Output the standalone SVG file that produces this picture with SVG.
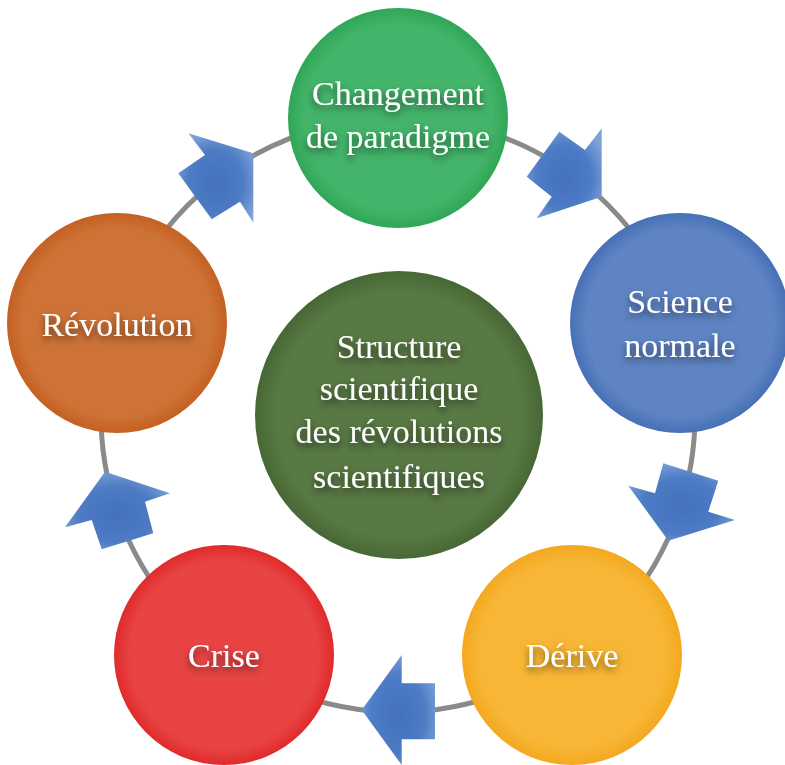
<svg xmlns="http://www.w3.org/2000/svg" width="785" height="765" viewBox="0 0 785 765">
<defs>
<style>
.lbl{font-family:"Liberation Serif","Times New Roman",serif;font-size:34px;fill:#ffffff;text-anchor:middle;filter:url(#ts)}
.ring{fill:none;stroke:#8a8a8a;stroke-width:5}
.arr{fill:url(#gArr)}
</style>
<filter id="ts" x="-20%" y="-40%" width="140%" height="200%">
<feGaussianBlur in="SourceAlpha" stdDeviation="3.5"/>
<feOffset dx="0" dy="4" result="b"/>
<feFlood flood-color="#000" flood-opacity="0.55"/>
<feComposite in2="b" operator="in" result="s"/>
<feMerge><feMergeNode in="s"/><feMergeNode in="SourceGraphic"/></feMerge>
</filter>
<radialGradient id="gArr" cx="0.5" cy="0.55" r="0.6">
<stop offset="0" stop-color="#4470bd"/>
<stop offset="0.6" stop-color="#4d7bc4"/>
<stop offset="1" stop-color="#7ea3d8"/>
</radialGradient>
<radialGradient id="gGreen"><stop offset="0.85" stop-color="#43b46a"/><stop offset="1" stop-color="#2fa656"/></radialGradient>
<radialGradient id="gBlue"><stop offset="0.85" stop-color="#5e84c3"/><stop offset="1" stop-color="#4670b6"/></radialGradient>
<radialGradient id="gYellow"><stop offset="0.85" stop-color="#f7b635"/><stop offset="1" stop-color="#f4a81f"/></radialGradient>
<radialGradient id="gRed"><stop offset="0.85" stop-color="#e84444"/><stop offset="1" stop-color="#e02a2a"/></radialGradient>
<radialGradient id="gOrange"><stop offset="0.85" stop-color="#ce7337"/><stop offset="1" stop-color="#c46022"/></radialGradient>
<radialGradient id="gCenter"><stop offset="0.85" stop-color="#587844"/><stop offset="1" stop-color="#476834"/></radialGradient>
</defs>
<rect width="785" height="765" fill="#ffffff"/>
<g id="connectors">
<circle class="ring" cx="398" cy="415" r="297"/>
<polygon class="arr" points="188.3,133.3 253.3,153.3 253.3,222.7 240,201.7 211.7,219.3 178.3,173.3 205,155"/>
<polygon class="arr" points="559.3,131.7 585,150 601.7,128.3 601.7,196.7 536.7,218.3 551.7,196.7 526.7,176.7"/>
<polygon class="arr" points="663.3,463.3 718.3,480.7 708.3,511.7 735,520 668.3,540.7 628.3,485.7 655,493.3"/>
<polygon class="arr" points="401.7,655 401.7,683.3 435,683.3 435,739.3 401.7,739.3 401.7,765 361.7,710"/>
<polygon class="arr" points="105,471.7 170,493.3 145,501.7 153.3,533.3 101.7,549.3 91.7,520 65,527.3"/>
</g>
<g id="center">
<circle cx="399" cy="415" r="144" fill="url(#gCenter)"/>
<text class="lbl" x="399" y="358">Structure</text>
<text class="lbl" x="399" y="400">scientifique</text>
<text class="lbl" x="399" y="443">des révolutions</text>
<text class="lbl" x="399" y="488">scientifiques</text>
</g>
<g id="changement">
<circle cx="398" cy="118" r="110" fill="url(#gGreen)"/>
<text class="lbl" x="398" y="105">Changement</text>
<text class="lbl" x="398" y="148">de paradigme</text>
</g>
<g id="science">
<circle cx="680" cy="323" r="110" fill="url(#gBlue)"/>
<text class="lbl" x="680" y="313">Science</text>
<text class="lbl" x="680" y="357">normale</text>
</g>
<g id="derive">
<circle cx="572" cy="655" r="110" fill="url(#gYellow)"/>
<text class="lbl" x="572" y="667">Dérive</text>
</g>
<g id="crise">
<circle cx="224" cy="655" r="110" fill="url(#gRed)"/>
<text class="lbl" x="224" y="667">Crise</text>
</g>
<g id="revolution">
<circle cx="117" cy="323" r="110" fill="url(#gOrange)"/>
<text class="lbl" x="117" y="336">Révolution</text>
</g>
</svg>
